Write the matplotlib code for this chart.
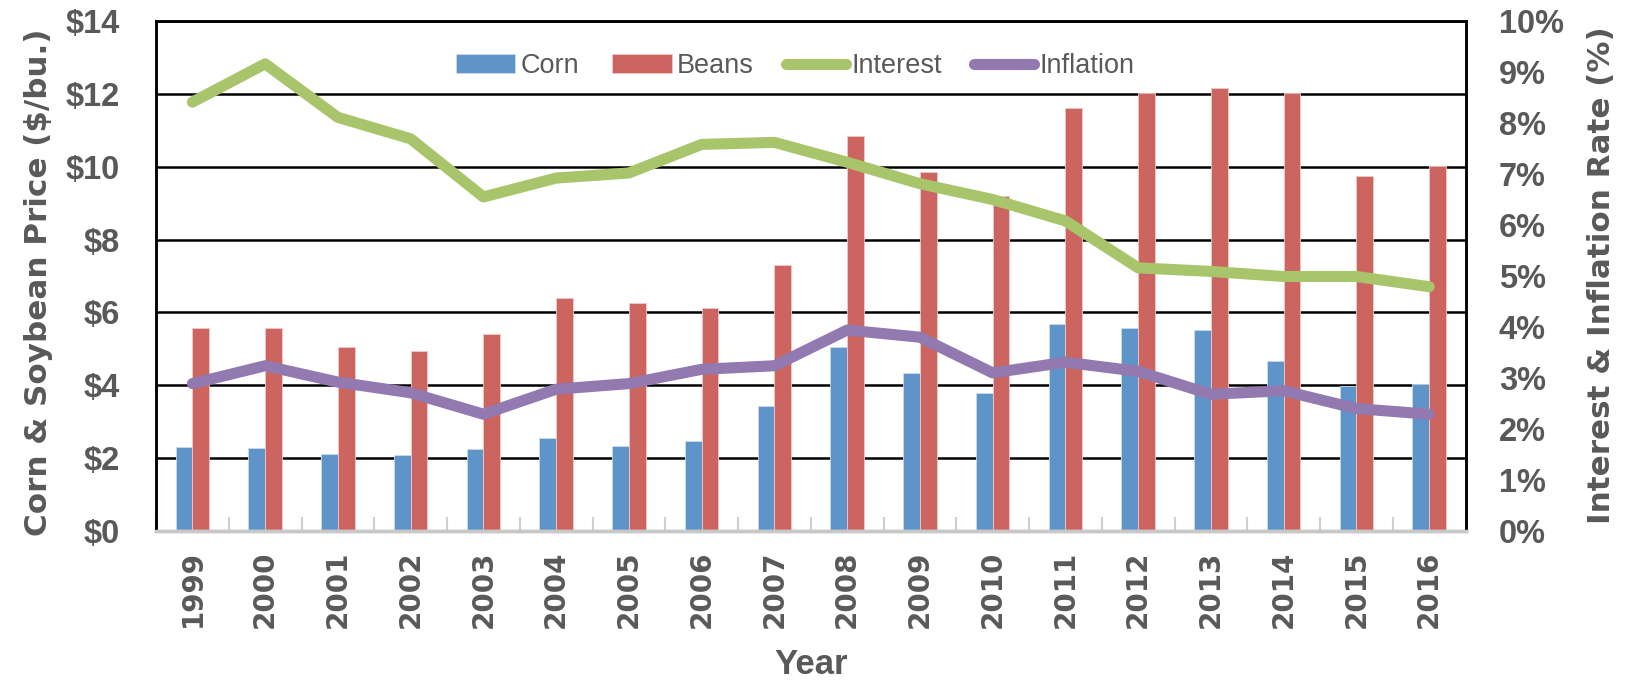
import numpy as np
import matplotlib.pyplot as plt

years = [str(y) for y in range(1999, 2017)]
corn = [2.31, 2.28, 2.11, 2.08, 2.26, 2.54, 2.34, 2.46, 3.42,
        5.05, 4.34, 3.79, 5.68, 5.56, 5.51, 4.68, 3.99, 4.03]
beans = [5.56, 5.56, 5.05, 4.95, 5.41, 6.40, 6.26, 6.11, 7.31,
         10.85, 9.86, 9.20, 11.60, 12.02, 12.15, 12.02, 9.74, 10.01]
interest = [8.41, 9.16, 8.11, 7.69, 6.55, 6.92, 7.02, 7.58, 7.62,
            7.23, 6.81, 6.50, 6.08, 5.16, 5.09, 4.99, 4.99, 4.79]
inflation = [2.89, 3.24, 2.92, 2.71, 2.29, 2.78, 2.89, 3.17, 3.24,
             3.94, 3.80, 3.10, 3.31, 3.13, 2.68, 2.75, 2.40, 2.29]

c_corn = '#5E94C8'
c_beans = '#CC6560'
c_int = '#A9C56B'
c_inf = '#9279B0'
grey = '#595959'
narrow = ['Liberation Sans', 'DejaVu Sans']

fig = plt.figure(figsize=(16.32, 6.84), dpi=100)
ax = fig.add_axes([0.0956, 0.2237, 0.8024, 0.7456])
ax2 = ax.twinx()

x = np.arange(len(years))
w = 0.23
b1 = ax.bar(x - w / 2, corn, w, color=c_corn, edgecolor='#c9daf0', linewidth=0.6, label='Corn', zorder=2)
b2 = ax.bar(x + w / 2, beans, w, color=c_beans, edgecolor='#f0c9c6', linewidth=0.6, label='Beans', zorder=2)
l1, = ax2.plot(x, interest, color=c_int, lw=8, solid_capstyle='round', solid_joinstyle='round', label='Interest')
l2, = ax2.plot(x, inflation, color=c_inf, lw=8, solid_capstyle='round', solid_joinstyle='round', label='Inflation')

ax.set_xlim(-0.5, 17.5)
ax.set_ylim(0, 14)
ax2.set_ylim(0, 10)
ax.set_yticks(range(0, 15, 2))
ax.set_yticklabels(['$%d' % v for v in range(0, 15, 2)])
ax2.set_yticks(range(0, 11))
ax2.set_yticklabels(['%d%%' % v for v in range(0, 11)])
ax.yaxis.grid(True, color='black', lw=1.8, zorder=1)
ax.set_axisbelow(True)

ax.set_xticks(x)
ax.set_xticklabels(years, rotation=90, fontsize=20, fontweight='bold', color=grey, family='DejaVu Sans')
ax.set_xticks(np.arange(-0.5, 18, 1), minor=True)
ax.tick_params(axis='x', which='major', length=0, pad=14)
ax.tick_params(axis='x', which='minor', length=10, direction='in', color='#d0d0d0', width=1.5)
ax.tick_params(axis='y', length=0, pad=26)
ax2.tick_params(axis='y', length=0, pad=24)
for lab in ax.get_yticklabels() + ax2.get_yticklabels():
    lab.set_family(narrow)
    lab.set_fontsize(23.5)
    lab.set_fontweight('bold')
    lab.set_color(grey)

for a in (ax, ax2):
    for s in ('left', 'right', 'top'):
        a.spines[s].set_color('black')
        a.spines[s].set_linewidth(1.8)
    a.spines['bottom'].set_color('#c8c8c8')
    a.spines['bottom'].set_linewidth(2.5)

ax.set_ylabel('Corn & Soybean Price ($/bu.)', fontsize=22.3, fontweight='bold', color=grey)
ax2.set_ylabel('Interest & Inflation Rate (%)', fontsize=22.3, fontweight='bold', color=grey)
ax.yaxis.set_label_coords(-0.0786, 0.488)
ax2.yaxis.set_label_coords(1.0931, 0.501)
ax.set_xlabel('Year', fontsize=25, fontweight='bold', color=grey, family=narrow, labelpad=14)

leg = ax.legend([b1, b2, l1, l2], ['Corn', 'Beans', 'Interest', 'Inflation'],
                loc='upper center', bbox_to_anchor=(0.488, 0.985), ncol=4, frameon=False,
                prop={'family': narrow, 'size': 19.5}, handlelength=2.2, handletextpad=0.2,
                columnspacing=1.2)
for t in leg.get_texts():
    t.set_color(grey)

fig.savefig('out.png', dpi=100)
